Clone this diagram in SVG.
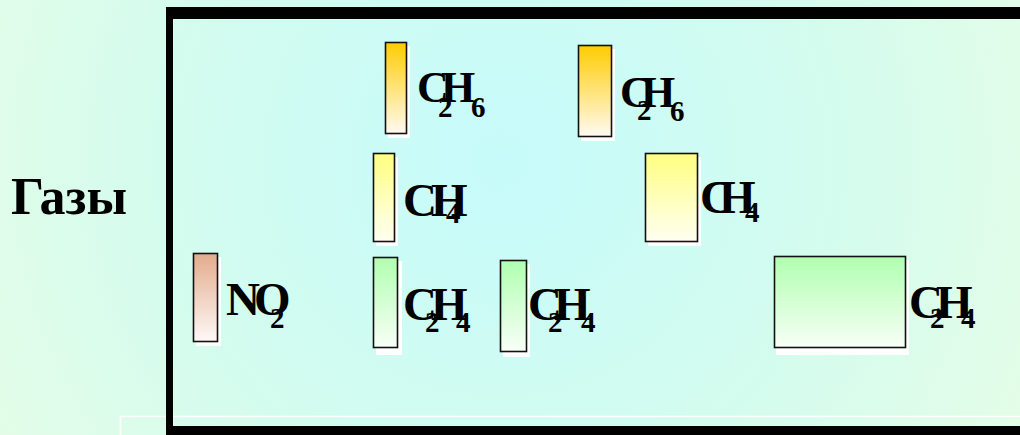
<svg xmlns="http://www.w3.org/2000/svg" width="1020" height="435" viewBox="0 0 1020 435">
  <defs>
    <radialGradient id="bg" cx="500" cy="160" r="620" gradientUnits="userSpaceOnUse">
      <stop offset="0" stop-color="#c6fbfb"/>
      <stop offset="0.55" stop-color="#d4fcee"/>
      <stop offset="1" stop-color="#e6fde6"/>
    </radialGradient>
    <linearGradient id="gold" x1="0" y1="0" x2="0" y2="1">
      <stop offset="0" stop-color="#ffcc00"/>
      <stop offset="1" stop-color="#fffaf2"/>
    </linearGradient>
    <linearGradient id="yellow" x1="0" y1="0" x2="0" y2="1">
      <stop offset="0" stop-color="#ffff80"/>
      <stop offset="1" stop-color="#fffff2"/>
    </linearGradient>
    <linearGradient id="rose" x1="0" y1="0" x2="0" y2="1">
      <stop offset="0" stop-color="#e2ac8c"/>
      <stop offset="1" stop-color="#fff8f8"/>
    </linearGradient>
    <linearGradient id="green" x1="0" y1="0" x2="0" y2="1">
      <stop offset="0" stop-color="#b0ffb0"/>
      <stop offset="1" stop-color="#f8fff8"/>
    </linearGradient>
  </defs>
  <style>
    .shadow { fill: #ffffff; }
    .bar { stroke: #111111; stroke-width: 1.6; }
    .f { font-family: "Liberation Serif", "Times New Roman", serif; font-weight: bold; fill: #000000; }
    .big { font-size: 47px; }
    .mid { font-size: 44px; }
    .sub { font-size: 29px; }
    .frame { fill: #000000; }
  </style>

  <!-- slide background -->
  <rect x="0" y="0" width="1020" height="435" fill="url(#bg)"/>

  <!-- thin white outline near the bottom -->
  <path d="M120.5,435 V416.5 H1020" fill="none" stroke="#ffffff" stroke-width="1.6"/>

  <!-- heavy black frame -->
  <g id="frame">
    <rect class="frame" x="166" y="7" width="854" height="12"/>
    <rect class="frame" x="166" y="7" width="7" height="428"/>
    <rect class="frame" x="166" y="426" width="854" height="9"/>
  </g>

  <text id="title" class="f" x="11" y="214" font-size="52">Газы</text>

  <!-- ethane, left -->
  <g id="c2h6-a">
    <rect class="shadow" x="388" y="46" width="22" height="92"/>
    <rect class="bar" x="385.5" y="42.5" width="21" height="91" fill="url(#gold)"/>
    <text class="f"><tspan class="mid" x="417" y="102">C</tspan><tspan class="sub" x="438" y="117">2</tspan><tspan class="mid" x="441" y="102">H</tspan><tspan class="sub" x="471" y="117">6</tspan></text>
  </g>

  <!-- ethane, right -->
  <g id="c2h6-b">
    <rect class="shadow" x="581" y="49" width="34" height="92"/>
    <rect class="bar" x="578.5" y="45.5" width="33" height="91" fill="url(#gold)"/>
    <text class="f"><tspan class="mid" x="620" y="107">C</tspan><tspan class="sub" x="637" y="120">2</tspan><tspan class="mid" x="641" y="107">H</tspan><tspan class="sub" x="670" y="121">6</tspan></text>
  </g>

  <!-- methane, left -->
  <g id="ch4-a">
    <rect class="shadow" x="376" y="157" width="22" height="89"/>
    <rect class="bar" x="373.5" y="153.5" width="21" height="88" fill="url(#yellow)"/>
    <text class="f"><tspan class="big" x="403" y="216">C</tspan><tspan class="big" x="431" y="216">H</tspan><tspan class="sub" x="446" y="223">4</tspan></text>
  </g>

  <!-- methane, right -->
  <g id="ch4-b">
    <rect class="shadow" x="648" y="157" width="53" height="89"/>
    <rect class="bar" x="645.5" y="153.5" width="52" height="88" fill="url(#yellow)"/>
    <text class="f"><tspan class="big" x="700" y="213">C</tspan><tspan class="big" x="719" y="213">H</tspan><tspan class="sub" x="745" y="222">4</tspan></text>
  </g>

  <!-- nitrogen dioxide -->
  <g id="no2">
    <rect class="shadow" x="196" y="257" width="25" height="89"/>
    <rect class="bar" x="193.5" y="253.5" width="24" height="88" fill="url(#rose)"/>
    <text class="f"><tspan class="big" x="226" y="315">N</tspan><tspan class="big" x="254" y="315">O</tspan><tspan class="sub" x="270" y="328">2</tspan></text>
  </g>

  <!-- ethylene, left -->
  <g id="c2h4-a">
    <rect class="shadow" x="376" y="261" width="26" height="94"/>
    <rect class="bar" x="373.5" y="257.5" width="24" height="90" fill="url(#green)"/>
    <text class="f"><tspan class="big" x="403" y="320">C</tspan><tspan class="sub" x="425" y="332">2</tspan><tspan class="big" x="431" y="320">H</tspan><tspan class="sub" x="456" y="332">4</tspan></text>
  </g>

  <!-- ethylene, middle -->
  <g id="c2h4-b">
    <rect class="shadow" x="503" y="264" width="27" height="93"/>
    <rect class="bar" x="500.5" y="260.5" width="26" height="91" fill="url(#green)"/>
    <text class="f"><tspan class="big" x="528" y="320">C</tspan><tspan class="sub" x="548" y="332">2</tspan><tspan class="big" x="554" y="320">H</tspan><tspan class="sub" x="581" y="332">4</tspan></text>
  </g>

  <!-- ethylene, right -->
  <g id="c2h4-c">
    <rect class="shadow" x="776" y="260" width="133" height="95"/>
    <rect class="bar" x="774.5" y="256.5" width="131" height="91" fill="url(#green)"/>
    <text class="f"><tspan class="big" x="909" y="318">C</tspan><tspan class="sub" x="930" y="328">2</tspan><tspan class="big" x="936" y="318">H</tspan><tspan class="sub" x="961" y="328">4</tspan></text>
  </g>

  <!-- no connectors in this figure -->
  <g id="connectors"/>
</svg>
